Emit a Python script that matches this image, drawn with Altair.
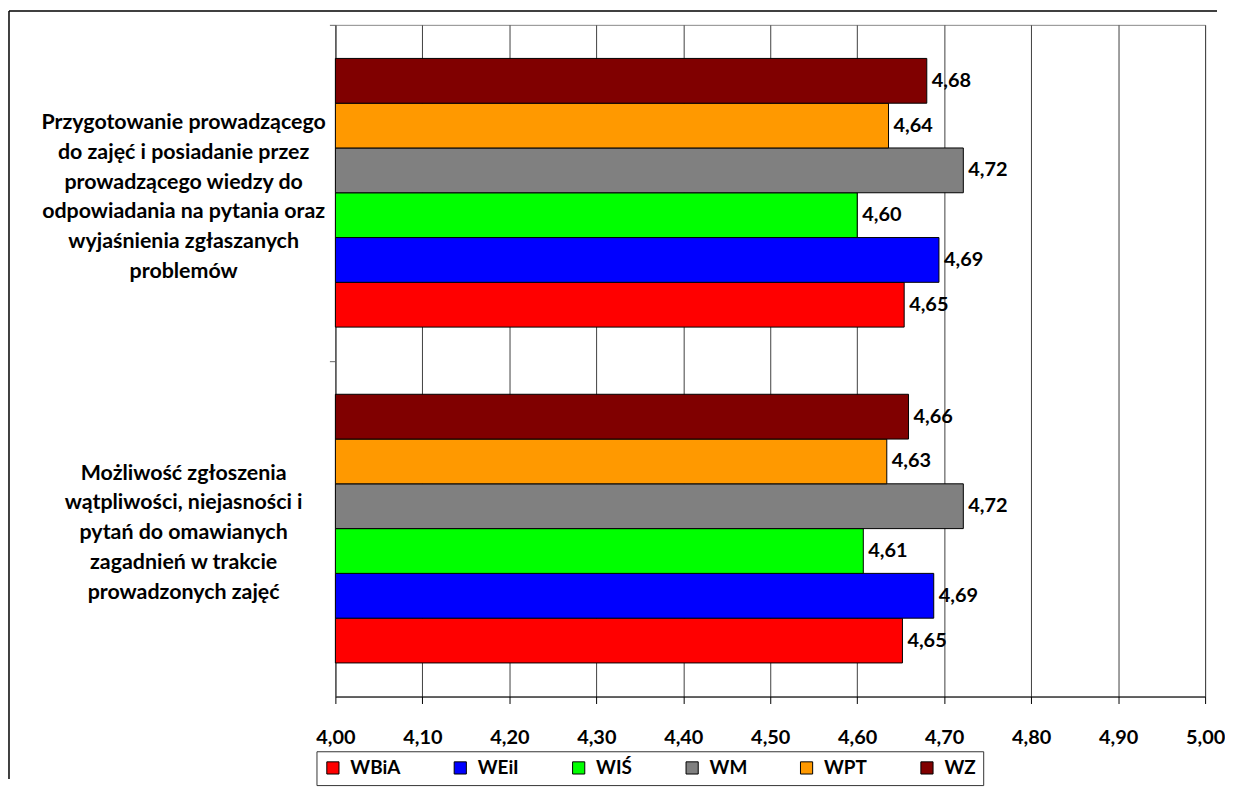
import altair as alt
import pandas as pd

# ---- data ----
CATEGORIES = [
    "Przygotowanie prowadzącego|do zajęć i posiadanie przez|prowadzącego wiedzy do|odpowiadania na pytania oraz|wyjaśnienia zgłaszanych|problemów",
    "Możliwość zgłoszenia|wątpliwości, niejasności i|pytań do omawianych|zagadnień w trakcie|prowadzonych zajęć",
]
SERIES = ["WBiA", "WEiI", "WIŚ", "WM", "WPT", "WZ"]
COLORS = ["#FF0000", "#0000FF", "#00FF00", "#808080", "#FF9900", "#800000"]
VALUES_Q1 = [4.654, 4.694, 4.600, 4.722, 4.636, 4.680]
VALUES_Q2 = [4.652, 4.688, 4.607, 4.722, 4.634, 4.659]
X_TICKS = [4.0, 4.1, 4.2, 4.3, 4.4, 4.5, 4.6, 4.7, 4.8, 4.9, 5.0]
BASE = 4.0

rows = []
for cat, vals in zip(CATEGORIES, [VALUES_Q1, VALUES_Q2]):
    for s, v in zip(SERIES, vals):
        rows.append({"category": cat, "series": s, "value": v, "base": BASE})
df = pd.DataFrame(rows)

FONT = "Lato"
FS = 20

y_enc = alt.Y(
    "category:N",
    sort=CATEGORIES,
    scale=alt.Scale(paddingInner=0.2, paddingOuter=0.1),
    axis=alt.Axis(
        title=None,
        labelExpr="split(datum.label, '|')",
        labelAlign="center",
        labelBaseline="middle",
        labelPadding=147,
        labelLimit=500,
        labelFont=FONT,
        labelFontSize=21.5,
        labelFontWeight="bold",
        labelLineHeight=30,
        labelColor="black",
        tickOffset=-168.75,
        labelOffset={
            "condition": {"test": "length(split(datum.label, '|')) == 6", "value": 98},
            "value": 113,
        },
        tickSize=6,
        tickColor="#666",
        domainColor="#555",
        grid=False,
    ),
)
yoff = alt.YOffset("series:N", sort=SERIES[::-1],
                   scale=alt.Scale(paddingInner=0, paddingOuter=0))

x_enc = alt.X(
    "value:Q",
    scale=alt.Scale(domain=[4.0, 5.0], nice=False, zero=False),
    axis=alt.Axis(
        title=None,
        values=X_TICKS,
        labelExpr="replace(format(datum.value, '.2f'), '.', ',')",
        labelFont=FONT,
        labelFontSize=FS,
        labelFontWeight="bold",
        labelColor="black",
        labelFlush=False,
        labelPadding=24,
        tickSize=7,
        tickColor="black",
        domainColor="black",
        grid=True,
        gridColor="#404040",
        gridWidth=1,
    ),
)

base = alt.Chart(df)

bars = base.mark_bar(stroke="black", strokeWidth=1).encode(
    y=y_enc,
    yOffset=yoff,
    x=x_enc,
    x2="base:Q",
    color=alt.Color(
        "series:N",
        scale=alt.Scale(domain=SERIES, range=COLORS),
        legend=alt.Legend(
            title=None,
            orient="none",
            direction="horizontal",
            legendX=-19,
            legendY=730,
            strokeColor="#333",
            padding=7,
            symbolType="square",
            symbolSize=150,
            symbolStrokeColor="black",
            symbolStrokeWidth=1,
            symbolOpacity=1,
            labelFont=FONT,
            labelFontSize=19,
            labelFontWeight="bold",
            labelColor="black",
            labelOffset=8,
            columnPadding=50,
        ),
    ),
)

labels = base.transform_calculate(
    label="replace(format(datum.value, '.2f'), '.', ',')"
).mark_text(
    align="left", baseline="middle", dx=5,
    font=FONT, fontSize=FS, fontWeight="bold", color="black"
).encode(
    y=alt.Y("category:N", sort=CATEGORIES),
    yOffset=yoff,
    x=alt.X("value:Q"),
    text="label:N",
)

# outer chart frame (top and left edges; the rest runs off the page)
frame_data = pd.DataFrame({"k": [0]})
frame_top = alt.Chart(frame_data).mark_rule(color="black", strokeWidth=1.5).encode(
    x=alt.value(-328), x2=alt.value(886), y=alt.value(-14),
)
frame_left = alt.Chart(frame_data).mark_rule(color="black", strokeWidth=1.5).encode(
    x=alt.value(-328), y=alt.value(-14), y2=alt.value(758),
)

chart = alt.layer(frame_top, frame_left, bars, labels).properties(
    width=874, height=675, padding=0
).configure_view(
    stroke="#888", strokeWidth=1
)

chart.save("out.html", embed_options={"renderer": "svg", "actions": False})
